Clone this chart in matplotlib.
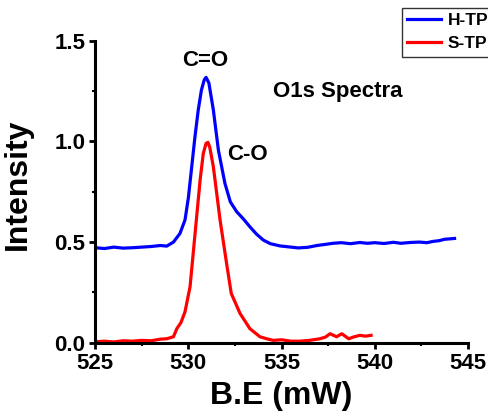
import matplotlib
matplotlib.use("Agg")
import matplotlib.pyplot as plt
from matplotlib.ticker import MultipleLocator

plt.rcParams['font.family'] = ['Liberation Sans', 'DejaVu Sans']
plt.rcParams['font.weight'] = 'bold'

# H-TP curve (blue)
htp_x = [525.0, 525.5, 526.0, 526.5, 527.0, 527.5, 528.0, 528.5, 528.84, 529.2,
         529.55, 529.82, 530.0, 530.18, 530.35, 530.53, 530.7, 530.85, 530.95,
         531.1, 531.34, 531.61, 531.96, 532.25, 532.59, 532.95, 533.3, 533.65,
         534.02, 534.4, 534.91, 535.4, 535.89, 536.4, 536.9, 537.3, 537.77,
         538.2, 538.7, 539.2, 539.6, 540.0, 540.5, 541.0, 541.4, 541.9, 542.4,
         542.8, 543.1, 543.45, 543.75, 544.28]
htp_y = [0.472, 0.468, 0.475, 0.470, 0.472, 0.475, 0.478, 0.483, 0.480, 0.500,
         0.543, 0.610, 0.720, 0.874, 1.020, 1.156, 1.255, 1.305, 1.318,
         1.290, 1.156, 0.957, 0.792, 0.700, 0.651, 0.615, 0.576, 0.540,
         0.510, 0.492, 0.481, 0.476, 0.471, 0.474, 0.483, 0.488, 0.494,
         0.497, 0.492, 0.498, 0.494, 0.497, 0.493, 0.499, 0.494, 0.498, 0.500,
         0.497, 0.503, 0.507, 0.514, 0.518]

# S-TP curve (red)
stp_x = [525.0, 525.5, 526.0, 526.5, 527.0, 527.5, 528.0, 528.5, 528.84, 529.2,
         529.38, 529.6, 529.82, 530.09, 530.36, 530.63, 530.8, 530.95, 531.05,
         531.15, 531.34, 531.7, 532.05, 532.3, 532.77, 533.3, 533.84, 534.2,
         534.55, 535.0, 535.5, 535.98, 536.5, 537.05, 537.35, 537.6, 537.95,
         538.23, 538.6, 538.9, 539.2, 539.5, 539.8]
stp_y = [0.005, 0.008, 0.004, 0.010, 0.008, 0.012, 0.010, 0.018, 0.020, 0.030,
         0.070, 0.100, 0.154, 0.278, 0.543, 0.808, 0.940, 0.990, 0.995,
         0.970, 0.874, 0.610, 0.394, 0.245, 0.146, 0.070, 0.030, 0.020,
         0.012, 0.015, 0.008, 0.008, 0.012, 0.020, 0.028, 0.045, 0.030,
         0.045, 0.020, 0.030, 0.037, 0.033, 0.037]

fig = plt.figure(figsize=(4.88, 4.15), dpi=100)
ax = fig.add_axes([0.195, 0.174, 0.764, 0.728])

ax.plot(htp_x, htp_y, color='#0000ff', lw=2.3, label='H-TP')
ax.plot(stp_x, stp_y, color='#ff0000', lw=2.3, label='S-TP')

ax.set_xlim(525, 545)
ax.set_ylim(0, 1.5)
ax.xaxis.set_major_locator(MultipleLocator(5))
ax.xaxis.set_minor_locator(MultipleLocator(2.5))
ax.yaxis.set_major_locator(MultipleLocator(0.5))
ax.yaxis.set_minor_locator(MultipleLocator(0.25))
ax.yaxis.set_major_formatter(matplotlib.ticker.FormatStrFormatter('%.1f'))

for s in ['top', 'right']:
    ax.spines[s].set_visible(False)
for s in ['left', 'bottom']:
    ax.spines[s].set_linewidth(2.2)
ax.tick_params(which='major', direction='out', length=4, width=2, labelsize=16, pad=3)
ax.tick_params(which='minor', direction='out', length=2, width=1.5)
for lab in ax.get_xticklabels() + ax.get_yticklabels():
    lab.set_fontweight('bold')

ax.set_xlabel('B.E (mW)', fontsize=23, fontweight='bold')
ax.set_ylabel('Intensity', fontsize=23, fontweight='bold')
ax.xaxis.set_label_coords(0.5, -0.125)
ax.yaxis.set_label_coords(-0.168, 0.525)

ax.text(530.9, 1.40, 'C=O', fontsize=16, fontweight='bold', ha='center', va='center')
ax.text(533.15, 0.935, 'C-O', fontsize=16, fontweight='bold', ha='center', va='center')
ax.text(538.0, 1.25, 'O1s Spectra', fontsize=16, fontweight='bold', ha='center', va='center')

# legend box sits partly past the right edge, as in the original
leg = fig.legend(loc='upper left', bbox_to_anchor=(402 / 488, 1 - 8 / 415),
                 fontsize=12.5, frameon=True, fancybox=False, edgecolor='black',
                 handlelength=1.95, handletextpad=0.4, borderpad=0.3,
                 labelspacing=0.45, borderaxespad=0)
leg.get_frame().set_linewidth(1.0)
for t in leg.get_texts():
    t.set_fontweight('bold')

fig.savefig('out.png', dpi=100)
